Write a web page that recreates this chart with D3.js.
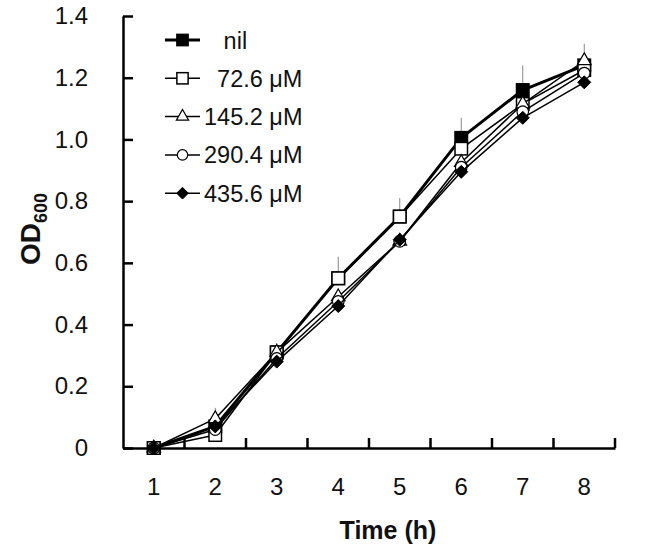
<!DOCTYPE html>
<html>
<head>
<meta charset="utf-8">
<script src="https://cdn.jsdelivr.net/npm/d3@7"></script>
<style>
  body { margin: 0; background: #fff; }
  svg { font-family: "Liberation Sans", Arial, sans-serif; }
</style>
</head>
<body>
<svg id="chart" width="659" height="554"></svg>
<script>
// ---- data ----
const times = [1, 2, 3, 4, 5, 6, 7, 8];
const seriesNames = ["nil", "72.6 μM", "145.2 μM", "290.4 μM", "435.6 μM"];
const nilValues    = [0, 0.070, 0.310, 0.550, 0.750, 1.005, 1.160, 1.240];
const v72Values    = [0, 0.042, 0.310, 0.550, 0.750, 0.970, 1.115, 1.225];
const v145Values   = [0, 0.095, 0.310, 0.490, 0.670, 0.925, 1.115, 1.255];
const v290Values   = [0, 0.060, 0.290, 0.475, 0.670, 0.910, 1.090, 1.215];
const v435Values   = [0, 0.070, 0.280, 0.460, 0.675, 0.895, 1.070, 1.185];
const nilErrors    = [0, 0, 0.030, 0.070, 0.060, 0.065, 0.080, 0];
const v72Errors    = [0, 0, 0, 0, 0, 0, 0, 0];
const v145Errors   = [0, 0.035, 0, 0, 0, 0, 0, 0.055];
const v290Errors   = [0, 0, 0, 0, 0, 0, 0, 0];
const v435Errors   = [0, 0, 0, 0, 0, 0, 0, 0];
const yTicks = [0, 0.2, 0.4, 0.6, 0.8, 1.0, 1.2, 1.4];
const yTickLabels = ["0", "0.2", "0.4", "0.6", "0.8", "1.0", "1.2", "1.4"];

const series = [
  { name: seriesNames[0], values: nilValues,  errors: nilErrors,  shape: "square",   fill: "#000", width: 3 },
  { name: seriesNames[1], values: v72Values,  errors: v72Errors,  shape: "square",   fill: "#fff", width: 1.5 },
  { name: seriesNames[2], values: v145Values, errors: v145Errors, shape: "triangle", fill: "#fff", width: 1.5 },
  { name: seriesNames[3], values: v290Values, errors: v290Errors, shape: "circle",   fill: "#fff", width: 1.5 },
  { name: seriesNames[4], values: v435Values, errors: v435Errors, shape: "diamond",  fill: "#000", width: 1.5 }
];

// ---- layout ----
const svg = d3.select("#chart");
const mLeft = 123, mRight = 615, mTop = 16, mBottom = 448;
const FONT = "Liberation Sans, Arial, sans-serif";

const x = d3.scaleBand().domain(times).range([mLeft, mRight]).padding(0);
const y = d3.scaleLinear().domain([0, 1.4]).range([mBottom, mTop]);
const cx = t => x(t) + x.bandwidth() / 2;

// ---- axes ----
const yAxis = d3.axisLeft(y)
  .tickValues(yTicks)
  .tickFormat((d, i) => yTickLabels[i])
  .tickSizeInner(-10)
  .tickSizeOuter(0)
  .tickPadding(35);
const gy = svg.append("g").attr("transform", `translate(${mLeft},0)`).call(yAxis);
gy.select(".domain").attr("stroke", "#000").attr("stroke-width", 2.5);
gy.selectAll(".tick line").attr("stroke", "#000").attr("stroke-width", 2.5);
gy.selectAll(".tick text").attr("font-size", 24).attr("fill", "#111")
  .attr("font-family", FONT);

const xAxis = d3.axisBottom(x).tickSize(0).tickPadding(30).tickSizeOuter(0);
const gx = svg.append("g").attr("transform", `translate(0,${mBottom})`).call(xAxis);
gx.select(".domain").attr("stroke", "#000").attr("stroke-width", 2.5);
gx.selectAll(".tick text").attr("font-size", 24).attr("fill", "#111")
  .attr("font-family", FONT);
// boundary tick marks (pointing inward)
gx.selectAll(".bound").data(times).enter().append("line")
  .attr("x1", d => x(d) + x.bandwidth()).attr("x2", d => x(d) + x.bandwidth())
  .attr("y1", 0).attr("y2", -10)
  .attr("stroke", "#000").attr("stroke-width", 2.5);

// axis titles
svg.append("text")
  .attr("x", 388).attr("y", 539)
  .attr("text-anchor", "middle")
  .attr("font-size", 25).attr("font-weight", "bold").attr("fill", "#111")
  .attr("font-family", FONT)
  .text("Time (h)");

const yt = svg.append("text")
  .attr("transform", "translate(40,229) rotate(-90)")
  .attr("text-anchor", "middle")
  .attr("font-family", FONT)
  .attr("font-size", 28).attr("font-weight", "bold").attr("fill", "#111");
yt.append("tspan").text("OD");
yt.append("tspan").attr("font-size", 18).attr("dy", 7).text("600");

// ---- marker drawing ----
function drawMarker(g, shape, fill, scale) {
  const s = scale || 1;
  if (shape === "square") {
    const a = 12.5 * s;
    g.append("rect").attr("x", -a / 2).attr("y", -a / 2).attr("width", a).attr("height", a)
      .attr("fill", fill).attr("stroke", "#000").attr("stroke-width", 1.5);
  } else if (shape === "triangle") {
    g.append("path").attr("d", d3.symbol(d3.symbolTriangle, 80 * s * s)())
      .attr("fill", fill).attr("stroke", "#000").attr("stroke-width", 1.2);
  } else if (shape === "circle") {
    g.append("circle").attr("r", 5.8 * s)
      .attr("fill", fill).attr("stroke", "#000").attr("stroke-width", 1.2);
  } else if (shape === "diamond") {
    const r = 6.5 * s;
    g.append("path").attr("d", `M0,${-r}L${r},0L0,${r}L${-r},0Z`)
      .attr("fill", fill).attr("stroke", "#000").attr("stroke-width", 1);
  }
}

// ---- error bars ----
const plot = svg.append("g");
series.forEach(s => {
  plot.selectAll(null).data(times.filter((t, i) => s.errors[i] > 0)).enter()
    .append("line")
    .attr("x1", t => cx(t)).attr("x2", t => cx(t))
    .attr("y1", t => y(s.values[times.indexOf(t)]))
    .attr("y2", t => { const i = times.indexOf(t); return y(s.values[i] + s.errors[i]); })
    .attr("stroke", "#888").attr("stroke-width", 1);
});

// ---- lines and markers ----
const line = d3.line().x((d, i) => cx(times[i])).y(d => y(d));
series.forEach(s => {
  plot.append("path").datum(s.values)
    .attr("d", line).attr("fill", "none")
    .attr("stroke", "#000").attr("stroke-width", s.width)
    .attr("stroke-linejoin", "round");
  s.values.forEach((v, i) => {
    const g = plot.append("g").attr("transform", `translate(${cx(times[i])},${y(v)})`);
    drawMarker(g, s.shape, s.fill, 1);
  });
});

// ---- legend ----
const legendNames = ["   " + seriesNames[0], "  " + seriesNames[1], seriesNames[2], seriesNames[3], seriesNames[4]];
const legend = svg.append("g");
series.forEach((s, i) => {
  const ly = 40 + i * 38.3;
  const g = legend.append("g").attr("transform", `translate(0,${ly})`);
  g.append("line").attr("x1", 165).attr("x2", 200).attr("y1", 0).attr("y2", 0)
    .attr("stroke", "#000").attr("stroke-width", s.width);
  const m = g.append("g").attr("transform", "translate(182.5,0)");
  drawMarker(m, s.shape, s.fill, 0.9);
  g.append("text").attr("x", 204).attr("y", 8.5)
    .style("white-space", "pre")
    .attr("font-family", FONT)
    .attr("font-size", 23.5).attr("fill", "#111")
    .text(legendNames[i]);
});
</script>
</body>
</html>
